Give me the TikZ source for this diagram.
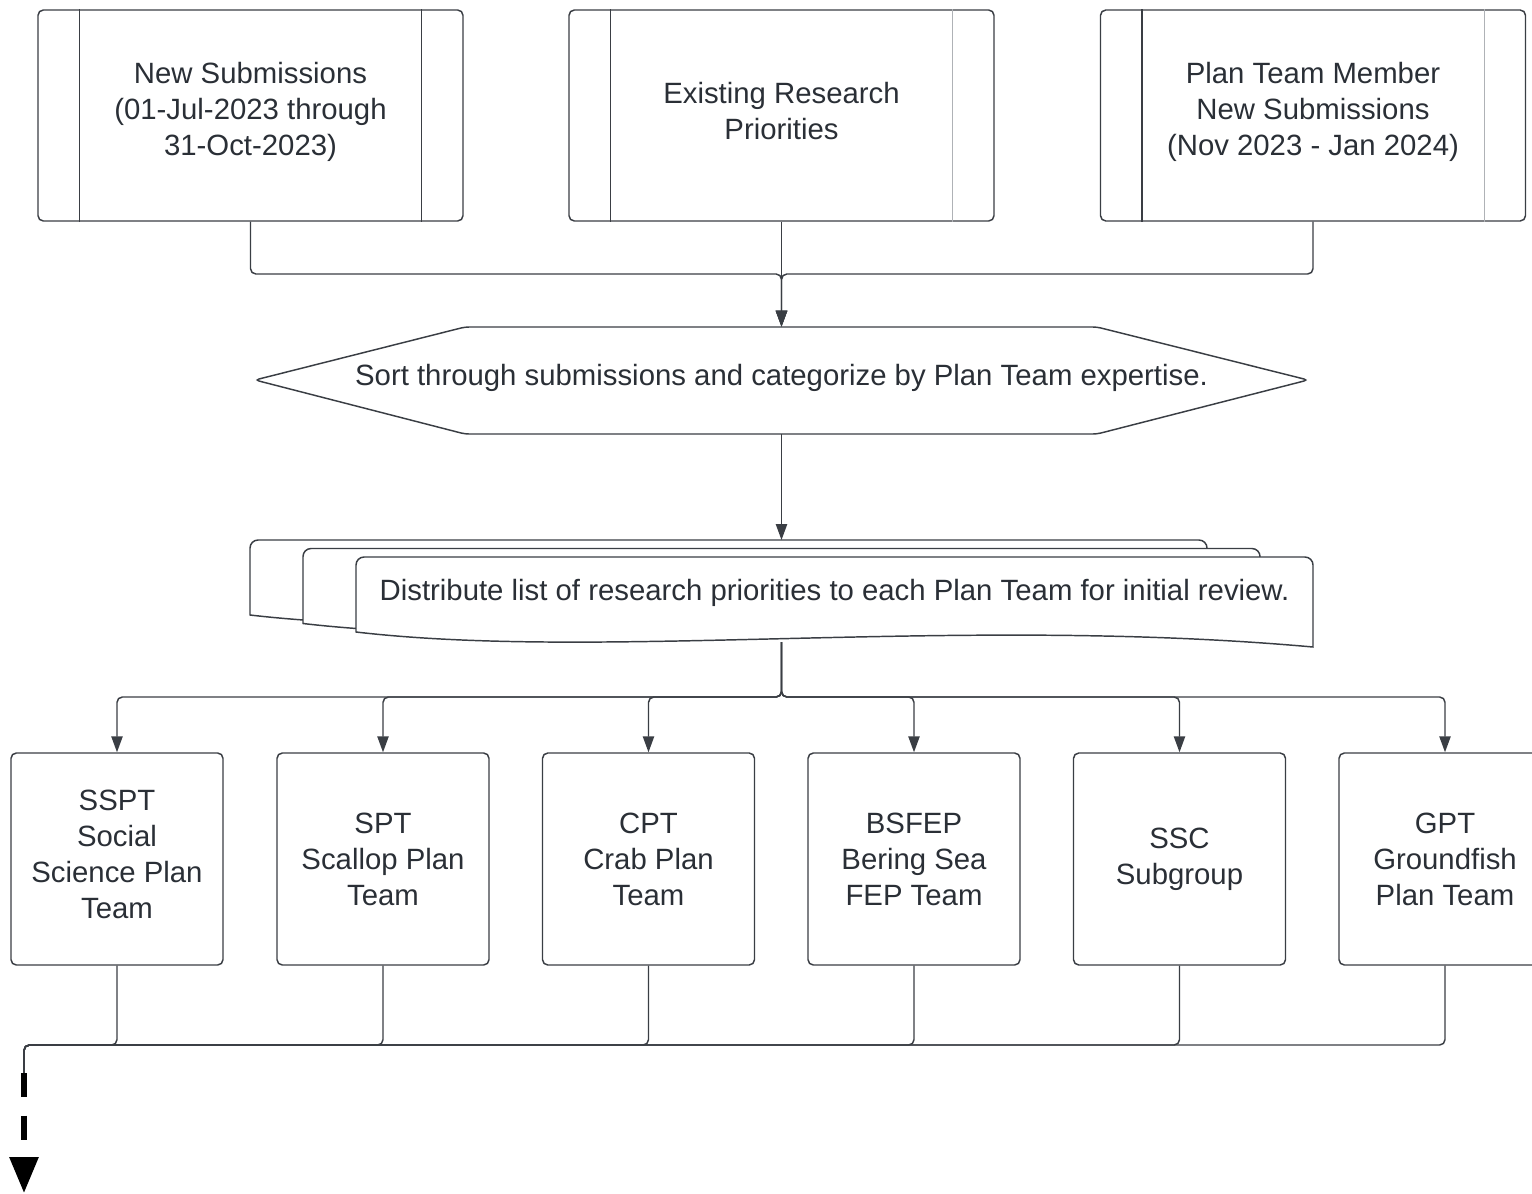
\documentclass[tikz,border=0pt]{standalone}
\usepackage{fontspec}
\setmainfont{Liberation Sans}
\usetikzlibrary{arrows.meta}
\newdimen\px \px=0.75pt
\definecolor{ln}{RGB}{58,62,68}
\definecolor{lnl}{RGB}{175,178,182}
\definecolor{tx}{RGB}{42,47,54}
\begin{document}
\begin{tikzpicture}[x=0.75pt,y=-0.75pt,
  every node/.style={font=\fontsize{22}{27}\selectfont, text=tx, align=center},
  conn/.style={draw=ln, line width=1.1pt, rounded corners=4pt},
  arr/.style={-{Triangle[length=12pt,width=8.5pt]}},
  topbox/.style={draw=ln, line width=1.1pt, rounded corners=4pt, minimum width=425\px, minimum height=211\px, inner sep=0pt},
  teambox/.style={draw=ln, line width=1.1pt, rounded corners=4pt, minimum width=212\px, minimum height=212\px, inner sep=0pt},
  shapeline/.style={draw=ln, line width=1.1pt}]
\useasboundingbox (0,0) rectangle (1532,1193);
\clip (0,0) rectangle (1532,1193);

% top boxes
\node[topbox, label={[yshift=2.5pt]center:New Submissions\\(01-Jul-2023 through\\31-Oct-2023)}] (n1) at (250.5,115.5) {};
\node[topbox, label={[yshift=3pt]center:Existing Research\\Priorities}] (n2) at (781.5,115.5) {};
\node[topbox, label={[yshift=2.5pt]center:Plan Team Member\\New Submissions\\(Nov 2023 - Jan 2024)}] (n3) at (1313,115.5) {};
\draw[shapeline] ([xshift=42\px]n1.north west) -- ([xshift=42\px]n1.south west);
\draw[shapeline] ([xshift=-42\px]n1.north east) -- ([xshift=-42\px]n1.south east);
\draw[shapeline] ([xshift=42\px]n2.north west) -- ([xshift=42\px]n2.south west);
\draw[shapeline, draw=lnl] ([xshift=-42\px]n2.north east) -- ([xshift=-42\px]n2.south east);
\draw[shapeline] ([xshift=42\px]n3.north west) -- ([xshift=42\px]n3.south west);
\draw[shapeline, draw=lnl] ([xshift=-42\px]n3.north east) -- ([xshift=-42\px]n3.south east);

% hexagon
\draw[shapeline, fill=white, rounded corners=3pt] (255,380) -- (465,327) -- (1097,327) -- (1308,380) -- (1097,434) -- (465,434) -- cycle;
\node[minimum width=1053\px, minimum height=107\px, inner sep=0pt] (sort) at (781.5,380.5) {};
\node (sorttext) at (781.5,378) {Sort through submissions and categorize by Plan Team expertise.};

% multi-document
\foreach \dx/\dy in {250/540, 303/548.5, 356/557} {
  \filldraw[shapeline, fill=white] (\dx,\dy+75) [rounded corners=6pt] -- (\dx,\dy) -- (\dx+957,\dy) [sharp corners] -- (\dx+957,\dy+90)
     .. controls (\dx+600,\dy+58) and (\dx+250,\dy+104) .. (\dx,\dy+75) -- cycle;
}
\node (dist) at (834.5,592.5) {Distribute list of research priorities to each Plan Team for initial review.};
\coordinate (distin) at (781.5,540);
\coordinate (distout) at (781.5,642);

% team boxes
\node[teambox, label={[yshift=3.5pt]center:SSPT\\Social\\Science Plan\\Team}] (b1) at (117,859) {};
\node[teambox] (b2) at (383,859) {SPT\\Scallop Plan\\Team};
\node[teambox] (b3) at (648.5,859) {CPT\\Crab Plan\\Team};
\node[teambox] (b4) at (914,859) {BSFEP\\Bering Sea\\FEP Team};
\node[teambox] (b5) at (1179.5,859) {SSC\\Subgroup};
\node[teambox] (b6) at (1445,859) {GPT\\Groundfish\\Plan Team};

% connectors top
\coordinate (topbus) at (781.5,274);
\draw[conn, arr] (n1.south) |- (topbus) -- (sort.north);
\draw[conn, arr] (n3.south) |- (topbus) -- (sort.north);
\draw[conn, arr] (n2.south) -- (sort.north);
\draw[conn, arr] (sort.south) -- (distin);

% distribution bus
\coordinate (dbus) at (781.5,697);
\foreach \i in {1,...,6} {
  \draw[conn, arr] (distout) -- (dbus) -| (b\i.north);
}

% collection bus
\coordinate (lbus) at (24,1045);
\coordinate (dashstart) at (24,1073);
\coordinate (finalend) at (24,1193);
\foreach \i in {1,...,6} {
  \draw[conn] (b\i.south) |- (lbus) -- (dashstart);
}
\draw[draw=black, line width=4.5pt, dash pattern=on 18pt off 14pt, -{Triangle[length=27pt,width=21pt]}] (dashstart) -- (finalend);
\end{tikzpicture}
\end{document}
